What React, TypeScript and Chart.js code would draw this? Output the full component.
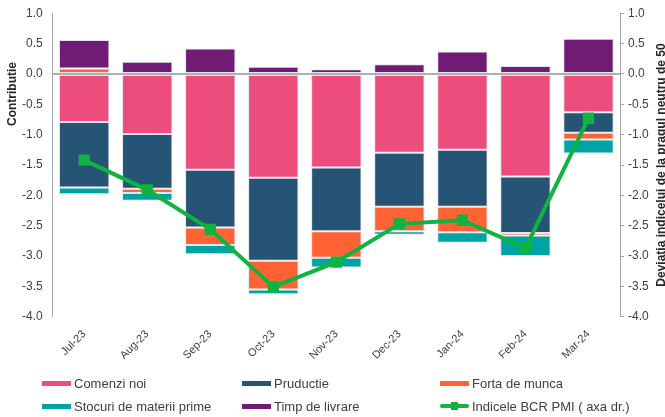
import React, { useEffect, useRef } from "react";
import { Chart, registerables } from "chart.js";

Chart.register(...registerables);

const categories = ["Jul-23", "Aug-23", "Sep-23", "Oct-23", "Nov-23", "Dec-23", "Jan-24", "Feb-24", "Mar-24"];
const comenziNoi = [-0.79, -0.99, -1.58, -1.71, -1.54, -1.30, -1.25, -1.69, -0.63];
const productie = [-1.08, -0.90, -0.95, -1.37, -1.05, -0.89, -0.94, -0.93, -0.34];
const fortaDeMunca = [0.09, -0.07, -0.29, -0.47, -0.44, -0.40, -0.42, -0.04, -0.11];
const stocuri = [-0.11, -0.13, -0.15, -0.08, -0.16, -0.06, -0.17, -0.34, -0.23];
const timpLivrare = [0.47, 0.20, 0.42, 0.12, 0.08, 0.16, 0.37, 0.13, 0.58];
const pmiDeviation = [-1.42, -1.91, -2.56, -3.51, -3.10, -2.47, -2.41, -2.87, -0.73];

const yMin = -4;
const yMax = 1;
const yStep = 0.5;

const leftTitle = "Contributie";
const rightTitle = "Deviatia indicelui de la pragul neutru de 50";

const COLORS = {
  pink: "#EC4D7C",
  navy: "#265475",
  orange: "#FF6333",
  teal: "#00A3A3",
  purple: "#701C74",
  green: "#10B240",
};

const FONT = "'Liberation Sans', Arial, sans-serif";

const legendItems = [
  { label: "Comenzi noi", color: COLORS.pink, type: "bar" },
  { label: "Pruductie", color: COLORS.navy, type: "bar" },
  { label: "Forta de munca", color: COLORS.orange, type: "bar" },
  { label: "Stocuri de materii prime", color: COLORS.teal, type: "bar" },
  { label: "Timp de livrare", color: COLORS.purple, type: "bar" },
  { label: "Indicele BCR PMI ( axa dr.)", color: COLORS.green, type: "line" },
];

export default function App() {
  const canvasRef = useRef<HTMLCanvasElement | null>(null);

  useEffect(() => {
    if (!canvasRef.current) return;
    const barBorder = "rgba(225,225,235,0.9)";
    const mkBar = (label: string, data: number[], color: string) => ({
      type: "bar" as const,
      label,
      data,
      backgroundColor: color,
      borderColor: barBorder,
      borderWidth: 1,
      borderSkipped: false,
      yAxisID: "y",
      order: 1,
      barPercentage: 0.8,
      categoryPercentage: 1.0,
    });

    const axisTitlesPlugin = {
      id: "axisTitles",
      afterDraw(chart: any) {
        const { ctx, chartArea } = chart;
        ctx.save();
        ctx.font = `bold 12px ${FONT}`;
        ctx.fillStyle = "#262626";
        ctx.textAlign = "center";
        ctx.textBaseline = "middle";
        // left title, placed in the upper part as in the reference
        ctx.save();
        ctx.translate(12.5, 94);
        ctx.rotate(-Math.PI / 2);
        ctx.fillText(leftTitle, 0, 0);
        ctx.restore();
        // right title, centred on the plot
        ctx.save();
        ctx.translate(661.5, (chartArea.top + chartArea.bottom) / 2);
        ctx.rotate(-Math.PI / 2);
        ctx.fillText(rightTitle, 0, 0);
        ctx.restore();
        ctx.restore();
      },
    };

    const chart = new Chart(canvasRef.current, {
      type: "bar",
      data: {
        labels: categories,
        datasets: [
          {
            type: "line" as const,
            label: "Indicele BCR PMI ( axa dr.)",
            data: pmiDeviation,
            borderColor: COLORS.green,
            backgroundColor: COLORS.green,
            borderWidth: 4,
            pointStyle: "rect",
            pointRadius: 8,
            pointBorderWidth: 0,
            pointBackgroundColor: COLORS.green,
            yAxisID: "y1",
            order: 0,
            tension: 0,
          } as any,
          mkBar("Comenzi noi", comenziNoi, COLORS.pink),
          mkBar("Pruductie", productie, COLORS.navy),
          mkBar("Forta de munca", fortaDeMunca, COLORS.orange),
          mkBar("Stocuri de materii prime", stocuri, COLORS.teal),
          mkBar("Timp de livrare", timpLivrare, COLORS.purple),
        ],
      },
      options: {
        animation: false,
        responsive: false,
        maintainAspectRatio: false,
        layout: { padding: { top: 13.3, left: 0, right: 0, bottom: 0 } },
        plugins: {
          legend: { display: false },
          tooltip: { enabled: false },
        },
        scales: {
          x: {
            stacked: true,
            grid: { display: false, drawTicks: false },
            border: { display: false },
            ticks: {
              color: "#404040",
              font: { family: FONT, size: 11 },
              maxRotation: 45,
              minRotation: 45,
              padding: 11,
              autoSkip: false,
            },
            afterFit(scale: any) {
              scale.height = 100.3;
              scale.paddingLeft = 0;
              scale.paddingRight = 0;
            },
          },
          y: {
            type: "linear",
            position: "left",
            stacked: true,
            min: yMin,
            max: yMax,
            title: { display: false },
            ticks: {
              stepSize: yStep,
              color: "#404040",
              font: { family: FONT, size: 12 },
              padding: 10,
              callback: (v: any) => Number(v).toFixed(1),
            },
            grid: {
              drawTicks: false,
              color: (ctx: any) => (ctx.tick && ctx.tick.value === 0 ? "#B0B0B0" : "rgba(0,0,0,0)"),
              lineWidth: (ctx: any) => (ctx.tick && ctx.tick.value === 0 ? 2 : 0),
            },
            border: { display: true, color: "#A6A6A6", width: 1 },
            afterFit(scale: any) {
              scale.width = 52.7;
              scale.paddingTop = 0;
              scale.paddingBottom = 0;
            },
          },
          y1: {
            type: "linear",
            position: "right",
            stacked: false,
            min: yMin,
            max: yMax,
            ticks: {
              stepSize: yStep,
              color: "#404040",
              font: { family: FONT, size: 12 },
              padding: 4,
              callback: (v: any) => Number(v).toFixed(1),
            },
            grid: {
              drawOnChartArea: false,
              drawTicks: true,
              tickLength: 4,
              color: "#A6A6A6",
            },
            border: { display: true, color: "#A6A6A6", width: 1 },
            afterFit(scale: any) {
              scale.width = 45;
              scale.paddingTop = 0;
              scale.paddingBottom = 0;
            },
          },
        },
      } as any,
      plugins: [axisTitlesPlugin],
    });
    return () => chart.destroy();
  }, []);

  const colX = [42, 242, 440];
  const rowY = [383, 406];

  return (
    <div style={{ position: "absolute", left: 0, top: 0, width: 665, height: 417, background: "#fff" }}>
      <canvas ref={canvasRef} width={665} height={417} style={{ position: "absolute", left: 0, top: 0 }} />
      {legendItems.map((item, i) => {
        const x = colX[i % 3];
        const y = rowY[Math.floor(i / 3)];
        return (
          <div key={item.label} style={{ position: "absolute", left: x, top: y - 10, height: 20, display: "flex", alignItems: "center", fontFamily: FONT, fontSize: 13, color: "#404040", whiteSpace: "nowrap" }}>
            {item.type === "bar" ? (
              <span style={{ display: "inline-block", width: 29, height: 5, background: item.color, marginRight: 3 }} />
            ) : (
              <span style={{ position: "relative", display: "inline-block", width: 29, height: 8, marginRight: 3 }}>
                <span style={{ position: "absolute", left: 0, top: 2, width: 29, height: 4, background: item.color, borderRadius: 2 }} />
                <span style={{ position: "absolute", left: 11, top: 0, width: 7, height: 8, background: item.color }} />
              </span>
            )}
            <span>{item.label}</span>
          </div>
        );
      })}
    </div>
  );
}
